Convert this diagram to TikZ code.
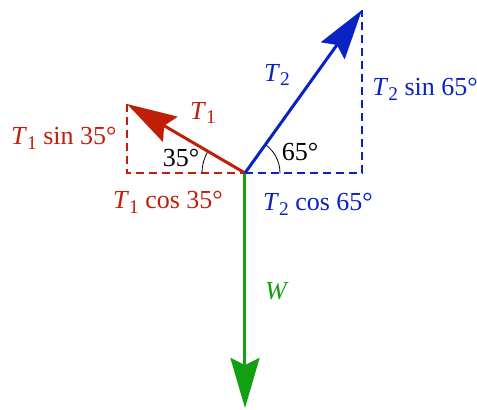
\documentclass[tikz,border=0pt]{standalone}
\usepackage{fontspec}
\setmainfont{Liberation Serif}
\usetikzlibrary{arrows.meta,positioning}

\definecolor{fred}{RGB}{192,30,8}
\definecolor{fblue}{RGB}{8,34,196}
\definecolor{fgreen}{RGB}{18,160,18}
\newcommand{\Tn}[1]{\textit{T}\raisebox{-0.4ex}{\fontsize{9.7}{10}\selectfont #1}}

\begin{document}
\begin{tikzpicture}[
    x=0.5pt, y=0.5pt,
    vec/.style={-{Stealth[length=25pt, width=14.5pt, inset=3.5pt]}, line width=1.5pt},
    comp/.style={dashed, dash pattern=on 4pt off 2.5pt, line width=1.35pt},
    ang/.style={thin, black},
    lbl/.style={font=\fontsize{13}{15}\selectfont, inner sep=1pt},
]
\useasboundingbox (-245,-236) rectangle (232,173);

% Points
\coordinate (O) at (0,0);
\coordinate (tipone) at (-118,69);
\coordinate (tiptwo) at (117,163);
\coordinate (tipw) at (0,-235);
\coordinate (cornone) at (-118,0);
\coordinate (corntwo) at (117,0);

% Components
\draw[comp, fred] (tipone) -- (cornone) -- (O);
\draw[comp, fblue] (O) -- (corntwo) -- (tiptwo);

% Angle arcs
\draw[ang] (O) ++(180:43) arc[start angle=180, end angle=149.7, radius=43];
\draw[ang] (O) ++(0:35) arc[start angle=0, end angle=54.3, radius=35];

% Forces
\draw[vec, fgreen] (O) -- (tipw);
\draw[vec, fred] (O) -- (tipone);
\draw[vec, fblue] (O) -- (tiptwo);

% Labels
\node[lbl, fred] (lone) at (-42,60) {\Tn{1}};
\node[lbl, fblue] (ltwo) at (32,98) {\Tn{2}};
\node[lbl, fgreen] (lw) at (32,-118) {\textit{W}};
\node[lbl] (aone) at (-64,15) {35°};
\node[lbl] (atwo) at (55,21) {65°};
\node[lbl, fred, anchor=east] (sone) at (-126,35) {\Tn{1} sin 35°};
\node[lbl, fblue, anchor=west] (stwo) at (125,84) {\Tn{2} sin 65°};
\node[lbl, fred] (cone) at (-77,-29) {\Tn{1} cos 35°};
\node[lbl, fblue] (ctwo) at (73,-31) {\Tn{2} cos 65°};
\end{tikzpicture}
\end{document}
